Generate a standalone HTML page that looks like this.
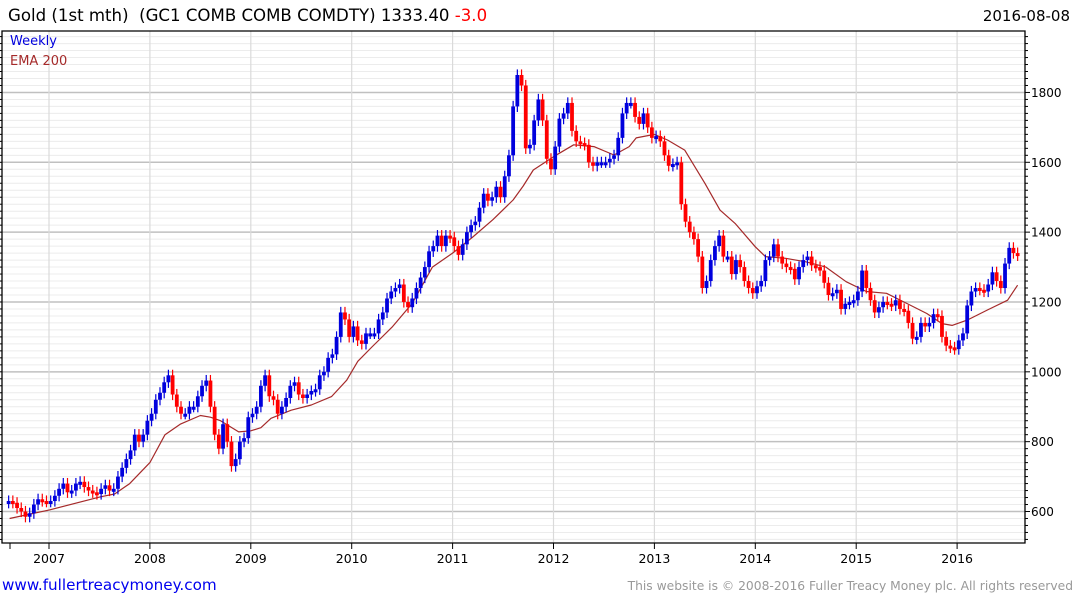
<!DOCTYPE html>
<html><head><meta charset="utf-8"><style>
body{margin:0;background:#fff;}
svg{display:block;font-family:"DejaVu Sans","Liberation Sans",sans-serif;}
</style></head><body>
<svg id="chart" width="1075" height="600" viewBox="0 0 1075 600">
<g id="grid"></g>
<g id="ema"></g>
<g id="bars"></g>
<g id="axes"></g>
<text x="8" y="21" font-size="16.6" fill="#000">Gold (1st mth) &#160;(GC1 COMB COMB COMDTY) 1333.40 <tspan fill="#ff0000">-3.0</tspan></text>
<text x="1070" y="21" font-size="15" fill="#000" text-anchor="end">2016-08-08</text>
<text x="10" y="45" font-size="13" fill="#0000dd">Weekly</text>
<text x="10" y="65" font-size="13" fill="#a52a2a">EMA 200</text>
<text x="2" y="590" font-size="15.2" fill="#0000ee">www.fullertreacymoney.com</text>
<text x="1073" y="590" font-size="12.3" fill="#999" text-anchor="end">This website is © 2008-2016 Fuller Treacy Money plc. All rights reserved</text>
</svg>
<script>
const startYear = 2006.6;
const stepYears = 1/24;
const closes = [
630,625,610,600,585,595,620,635,630,628,
630,645,665,680,655,660,680,685,670,660,655,650,665,675,660,665,700,725,750,775,820,800,820,860,
880,920,940,970,990,935,900,880,880,900,900,930,960,975,900,820,780,850,800,730,750,800,810,870,
880,900,960,990,930,920,880,900,925,960,970,935,925,935,945,950,990,1000,1040,1050,1100,1170,1150,1100,
1130,1090,1080,1110,1110,1110,1150,1170,1210,1230,1240,1250,1200,1185,1210,1240,1270,1300,1345,1360,1390,1360,1390,1385,
1360,1335,1365,1400,1420,1430,1470,1510,1490,1500,1530,1500,1560,1620,1760,1850,1820,1640,1650,1720,1780,1720,1610,1580,
1645,1725,1740,1770,1690,1660,1655,1650,1600,1590,1600,1600,1600,1610,1620,1670,1740,1770,1770,1730,1710,1740,1700,1670,
1675,1660,1620,1590,1595,1600,1480,1430,1400,1380,1330,1240,1260,1320,1360,1390,1330,1330,1280,1320,1300,1260,1240,1225,
1245,1260,1320,1330,1365,1330,1310,1300,1295,1265,1300,1320,1330,1305,1300,1290,1255,1220,1225,1235,1180,1195,1200,1205,
1230,1290,1240,1205,1170,1185,1200,1195,1190,1205,1180,1175,1140,1095,1100,1140,1130,1140,1165,1160,1100,1075,1070,1065,
1090,1110,1190,1230,1240,1235,1230,1250,1285,1260,1240,1310,1355,1340,1333.4
];
const emaDates = [2006.61,2007.01,2007.51,2007.65,2007.8,2008.0,2008.15,2008.3,2008.5,2008.6,2008.7,2008.88,2009.0,2009.1,2009.2,2009.4,2009.6,2009.8,2009.95,2010.06,2010.2,2010.4,2010.6,2010.8,2011.0,2011.2,2011.4,2011.6,2011.7,2011.8,2012.0,2012.2,2012.4,2012.6,2012.75,2012.82,2013.0,2013.13,2013.3,2013.5,2013.65,2013.8,2014.0,2014.1,2014.3,2014.5,2014.7,2014.9,2015.1,2015.3,2015.5,2015.7,2015.85,2015.95,2016.1,2016.3,2016.5,2016.6];
const emaValues = [580,605,642,650,680,740,820,850,875,870,860,828,831,840,867,890,905,929,976,1030,1071,1128,1196,1300,1340,1386,1436,1492,1532,1578,1616,1650,1645,1621,1645,1670,1680,1664,1635,1540,1463,1425,1358,1330,1325,1315,1300,1258,1230,1225,1196,1167,1138,1133,1148,1177,1205,1248];
const yTicks = [600,800,1000,1200,1400,1600,1800];
const xTickYears = [2007,2008,2009,2010,2011,2012,2013,2014,2015,2016];

const NS='http://www.w3.org/2000/svg';
const L=2,R=1025,T=31,B=543;
function xs(t){return 49+(t-2007)*100.9;}
function ys(v){return 511.5-(v-600)*0.3492;}
function mk(tag,attrs,parent){const e=document.createElementNS(NS,tag);for(const k in attrs)e.setAttribute(k,attrs[k]);parent.appendChild(e);return e;}
const grid=document.getElementById('grid'),axes=document.getElementById('axes'),bars=document.getElementById('bars'),emaG=document.getElementById('ema');

for(let v=500;v<=2000;v+=20){const y=ys(v);if(y<T||y>B)continue;
 const major=yTicks.includes(v);
 const g=mk('line',{x1:L,x2:R,y1:y,y2:y,stroke:major?'#c0c0c0':'#ececec','stroke-width':major?1.5:1},grid);
 
 
 const tk=mk('line',{x1:R,x2:R+(major?5:3),y1:y,y2:y,stroke:'#000'},axes);
 
 
 const tl=mk('line',{x1:L-2,x2:L,y1:y,y2:y,stroke:'#000'},axes);
 
 
}
yTicks.forEach(v=>{const t=mk('text',{x:R+6,y:ys(v)+4.5,'font-size':12,fill:'#000'},axes);t.textContent=v;
 
 });
xTickYears.forEach(yr=>{const x=xs(yr);
 const g=mk('line',{x1:x,x2:x,y1:T,y2:B,stroke:'#dadada','stroke-width':1.2},grid);
 
 
 const tk=mk('line',{x1:x,x2:x,y1:B,y2:B+6,stroke:'#000'},axes);
 
 
 const t=mk('text',{x:x,y:563,'font-size':12.5,fill:'#000','text-anchor':'middle'},axes);t.textContent=yr;
 
 });
const t0=mk('line',{x1:10,x2:10,y1:B,y2:B+6,stroke:'#000'},axes);


const fr=mk('path',{d:`M${L} ${T}H${R}V${B}H${L}Z`,fill:'none',stroke:'#000','stroke-width':1.3},axes);



for(let i=0;i<closes.length;i++){
 const c=closes[i],o=i>0?closes[i-1]:closes[i]-5;
 const t=startYear+i*stepYears,x=xs(t);
 const up=c>=o,col=up?'#0000dd':'#ff0000';
 const hi=Math.max(o,c)+16,lo=Math.min(o,c)-16;
 const w=mk('line',{x1:x,x2:x,y1:ys(hi),y2:ys(lo),stroke:col,'stroke-width':1.2},bars);
 
 
 const yb=ys(Math.max(o,c)),h=Math.max(3,ys(Math.min(o,c))-yb);
 const r=mk('rect',{x:x-1.9,y:yb,width:3.8,height:h,fill:col},bars);
 
 
}
let d='';emaDates.forEach((t,i)=>{d+=(i?'L':'M')+xs(t).toFixed(1)+' '+ys(emaValues[i]).toFixed(1);});
const p=mk('path',{d:d,fill:'none',stroke:'#a52a2a','stroke-width':1.2,'stroke-linejoin':'round'},emaG);


</script>
</body></html>
